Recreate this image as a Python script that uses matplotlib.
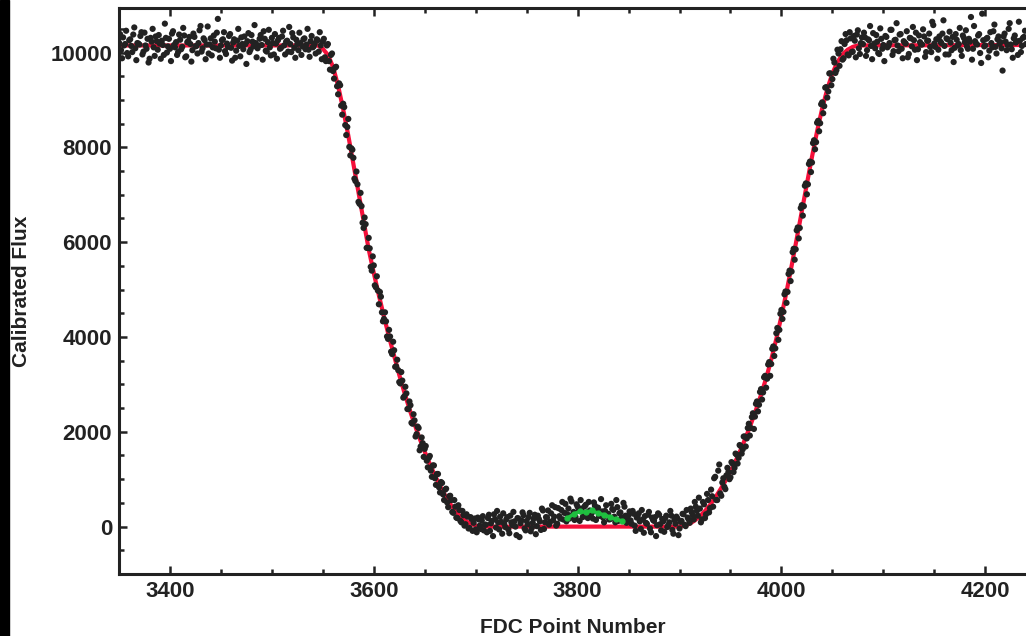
import numpy as np
import matplotlib
matplotlib.use("Agg")
import matplotlib.pyplot as plt
from matplotlib.patches import Rectangle

plt.rcParams['font.family'] = ['Liberation Sans', 'DejaVu Sans']

# measured flux, even FDC points
x_pre = np.arange(3350, 3550, 2)
flux_pre = [10210, 10050, 10320, 10180, 9990, 10260, 10140, 10380, 10090, 10200,
            10170, 10430, 10020, 10150, 10290, 9870, 10230, 10110, 10340, 10060,
            10190, 10250, 9950, 10310, 10130, 10080, 10400, 10160, 10220, 10010,
            10270, 10120, 10360, 9920, 10240, 10180, 10050, 10330, 10140, 10200,
            10560, 10090, 10260, 10170, 9980, 10300, 10110, 10230, 10420, 10060,
            10150, 10280, 10030, 10190, 10350, 10100, 10210, 9890, 10250, 10140,
            10320, 10070, 10180, 10240, 10010, 10370, 10130, 10200, 10090, 10290,
            10160, 10450, 10040, 10220, 10110, 10310, 9960, 10190, 10260, 10080,
            10340, 10150, 10230, 10020, 10180, 10410, 10100, 10270, 10050, 10200,
            10130, 10300, 10170, 10060, 10240, 10110, 10190, 10280, 10020, 10150]

x_ingress = np.arange(3550, 3710, 2)
flux_ingress = [10230, 9900, 10150, 9820, 9950, 9610, 9680, 9290, 9350, 8880,
                8920, 8470, 8430, 8010, 7980, 7780, 7290, 7220, 6810, 6760,
                6300, 6380, 5880, 5870, 5400, 5510, 5050, 4980, 4950, 4520,
                4380, 4330, 3960, 4010, 3640, 3720, 3380, 3300, 3020, 3080,
                2750, 2810, 2480, 2560, 2170, 2240, 1950, 2080, 1690, 1760,
                1640, 1390, 1450, 1180, 1290, 1020, 1110, 830, 940, 680,
                780, 510, 640, 560, 290, 420, 180, 350, 90, 240,
                50, 210, -30, 160, 80, -60, 190, 20, 130, -80]

x_bottom = np.arange(3710, 3920, 2)
flux_bottom = [40, 180, -90, 120, 260, -20, 90, 210, -150, 60,
               150, -60, 230, 30, 110, -180, 170, 70, 300, -40,
               120, 200, -100, 80, 250, 10, 160, -70, 340, 90,
               190, 40, 280, 130, 410, 60, 220, 350, 150, 480,
               260, 170, 530, 310, 200, 420, 120, 380, 250, 460,
               180, 340, 290, 510, 140, 400, 230, 320, 90, 450,
               270, 160, 370, 210, 560, 120, 300, 190, 420, 80,
               240, 130, 330, 20, 190, 280, -50, 150, 220, 60,
               310, -120, 140, 200, 30, 250, -80, 110, 180, -10,
               90, 230, -150, 60, 170, -40, 120, 260, 10, 190,
               80, 300, 150, 420, 230]

x_egress = np.arange(3920, 4080, 2)
flux_egress = [380, 150, 470, 260, 560, 390, 640, 1020, 560, 1180,
               700, 930, 840, 1080, 1150, 1040, 1330, 1240, 1520, 1450,
               1700, 1630, 1900, 1860, 2170, 2080, 2390, 2320, 2640, 2570,
               2900, 2830, 3180, 3120, 3470, 3430, 3800, 3760, 4190, 4150,
               4570, 4530, 4960, 4950, 5400, 5380, 5860, 5850, 6310, 6300,
               6780, 6760, 7240, 7220, 7700, 7680, 8150, 8110, 8560, 8510,
               8950, 8870, 9270, 9180, 9560, 9440, 9790, 9630, 9980, 10070,
               9850, 10180, 10260, 9940, 10300, 10020, 10250, 10380, 10090, 10200]

x_post = np.arange(4080, 4242, 2)
flux_post = [10180, 10320, 10050, 10260, 10140, 10410, 10090, 10230, 9970, 10290,
             10160, 10350, 10110, 10200, 10480, 10030, 10270, 10150, 10380, 10080,
             10240, 10190, 9900, 10310, 10130, 10260, 10420, 10070, 10220, 10170,
             10340, 10010, 10250, 10120, 10650, 10190, 10280, 10060, 10230, 10400,
             10140, 10300, 9960, 10210, 10330, 10100, 10270, 10180, 10050, 10360,
             10220, 10130, 10290, 10750, 10080, 10240, 10170, 10390, 9780, 10260,
             10150, 10310, 10040, 10200, 10450, 10120, 10280, 10190, 10090, 10340,
             10230, 10160, 10620, 10070, 10300, 10210, 9950, 10250, 10140, 10330,
             10180]

# measured flux, odd FDC points
x_pre_odd = np.arange(3351, 3551, 2)
flux_pre_odd = [10390, 9880, 10150, 10460, 9920, 10280, 10010, 10530, 9840, 10190,
                10350, 9960, 10420, 10080, 9790, 10310, 10500, 9930, 10240, 10370,
                9870, 10160, 10610, 10000, 10290, 9820, 10450, 10110, 9950, 10380,
                10070, 10520, 9900, 10220, 10330, 9810, 10400, 10130, 9980, 10470,
                10020, 10300, 9860, 10550, 10170, 9940, 10360, 10090, 10710, 9890,
                10260, 10430, 9970, 10120, 10390, 9830, 10280, 10040, 10500, 9920,
                10180, 10340, 9760, 10410, 10060, 10230, 10580, 9900, 10150, 10370,
                9850, 10290, 10020, 10480, 9940, 10200, 10390, 9870, 10310, 10100,
                10460, 9960, 10250, 10540, 10010, 10320, 9890, 10180, 10420, 9950,
                10280, 10070, 10500, 9910, 10350, 10130, 9980, 10260, 10430, 9860]

x_ingress_odd = np.arange(3551, 3711, 2)
flux_ingress_odd = [10290, 9820, 10180, 9640, 9980, 9450, 9700, 9120, 9310, 8690,
                    8850, 8260, 8600, 7830, 7950, 7340, 7490, 6850, 7040, 6410,
                    6520, 5880, 6090, 5480, 5700, 5090, 5280, 4690, 4850, 4330,
                    4520, 4010, 4150, 3690, 3900, 3370, 3520, 3050, 3260, 2720,
                    2950, 2480, 2640, 2190, 2370, 1900, 2110, 1610, 1880, 1470,
                    1700, 1250, 1490, 1050, 1290, 880, 1110, 720, 920, 560,
                    800, 410, 650, 310, 560, 190, 450, 120, 330, 20,
                    260, -40, 200, -90, 170, -120, 150, -50, 220, 40]

x_bottom_odd = np.arange(3711, 3921, 2)
flux_bottom_odd = [-120, 250, 70, -200, 160, 330, -60, 100, 280, -10,
                   200, -140, 90, 310, 0, 180, -220, 130, 240, -80,
                   50, 290, -30, 170, -160, 230, 110, 380, -50, 200,
                   340, 100, 450, 210, 20, 390, 170, 520, 290, 110,
                   380, 590, 240, 140, 470, 330, 560, 200, 430, 300,
                   520, 250, 170, 440, 360, 230, 580, 190, 330, 270,
                   150, 480, 350, 90, 410, 280, 180, 500, 230, 140,
                   320, 60, 270, -90, 200, 110, 350, -130, 80, 250,
                   -40, 190, 120, -200, 280, 50, 160, -110, 230, 30,
                   330, -70, 140, 210, -180, 100, 270, 40, 350, 150,
                   380, 240, 520, 330, 610]

x_egress_odd = np.arange(3921, 4081, 2)
flux_egress_odd = [90, 520, 180, 690, 300, 780, 420, 1050, 560, 1310,
                   650, 1020, 790, 1240, 1000, 1360, 1150, 1540, 1330, 1720,
                   1540, 1900, 1690, 2080, 1920, 2310, 2060, 2590, 2430, 2840,
                   2680, 3150, 2930, 3420, 3180, 3750, 3600, 4080, 3940, 4490,
                   4380, 4900, 4720, 5330, 5180, 5790, 5630, 6250, 6080, 6720,
                   6560, 7190, 7010, 7650, 7480, 8090, 7960, 8520, 8340, 8910,
                   8720, 9260, 9050, 9560, 9310, 9870, 9570, 10060, 9720, 10240,
                   9880, 10390, 9960, 10430, 10010, 10350, 9900, 10470, 9970, 10320]

x_post_odd = np.arange(4081, 4241, 2)
flux_post_odd = [10420, 9930, 10280, 10560, 9860, 10190, 10370, 9990, 10510, 10080,
                 9820, 10330, 10140, 10480, 9950, 10260, 10620, 10030, 10390, 9880,
                 10210, 10450, 9970, 10300, 10540, 10060, 9840, 10360, 10170, 10490,
                 9910, 10250, 10400, 10010, 10580, 10120, 9870, 10340, 10200, 10680,
                 9960, 10280, 10440, 10050, 9800, 10390, 10150, 10520, 9930, 10310,
                 10470, 10080, 10230, 9850, 10560, 10190, 10360, 9990, 10820, 10130,
                 10290, 9900, 10430, 10110, 10590, 9980, 10340, 10220, 9620, 10400,
                 10050, 10500, 10170, 9890, 10360, 10240, 10650, 10010, 10310, 10460]

# model light curve (red)
model_x = [3350, 3545, 3550, 3555, 3560, 3565, 3570, 3575, 3580, 3585, 3590, 3595,
           3600, 3605, 3610, 3615, 3620, 3625, 3630, 3635, 3640, 3645, 3650, 3655,
           3660, 3665, 3670, 3675, 3680, 3685, 3690, 3695, 3700, 3705,
           3900, 3905, 3910, 3915, 3920, 3925, 3930, 3935, 3940, 3945, 3950, 3955,
           3960, 3965, 3970, 3975, 3980, 3985, 3990, 3995, 4000, 4005, 4010, 4015,
           4020, 4025, 4030, 4035, 4040, 4045, 4050, 4055, 4060, 4065, 4070, 4075, 4240]
model_y = [10150, 10150, 10080, 9950, 9700, 9300, 8800, 8250, 7650, 7050, 6450, 5850,
           5350, 4880, 4430, 4000, 3600, 3200, 2830, 2480, 2160, 1860, 1580, 1320,
           1080, 860, 660, 480, 330, 210, 120, 60, 20, 0,
           0, 20, 60, 130, 220, 330, 460, 610, 780, 960, 1160, 1380,
           1620, 1880, 2160, 2460, 2780, 3130, 3520, 3960, 4440, 4950, 5500, 6070,
           6650, 7230, 7800, 8340, 8820, 9230, 9560, 9800, 9960, 10060, 10120, 10150, 10160]

# green segment near mid-transit
green_x = [3790, 3796, 3802, 3808, 3814, 3820, 3826, 3832, 3838, 3844]
green_y = [180, 260, 320, 300, 340, 280, 250, 200, 150, 120]

x_tick_vals = [3400, 3600, 3800, 4000, 4200]
y_tick_vals = [0, 2000, 4000, 6000, 8000, 10000]

ink = '#222222'
fig = plt.figure(figsize=(10.26, 6.36), dpi=100)
fig.patches.append(Rectangle((0, 0), 9 / 1026, 1, transform=fig.transFigure,
                             color='black', zorder=0))
ax = fig.add_axes([119 / 1026, 62 / 636, 907 / 1026, 566 / 636])

ax.plot(model_x, model_y, color='#f5103a', lw=3, zorder=2)
segments = [(x_pre, flux_pre), (x_ingress, flux_ingress), (x_bottom, flux_bottom),
            (x_egress, flux_egress), (x_post, flux_post),
            (x_pre_odd, flux_pre_odd), (x_ingress_odd, flux_ingress_odd),
            (x_bottom_odd, flux_bottom_odd), (x_egress_odd, flux_egress_odd),
            (x_post_odd, flux_post_odd)]
for xs, ys in segments:
    ax.scatter(xs, ys, s=20, color=ink, edgecolors='none', zorder=4)
ax.plot(green_x, green_y, color='#1fbf3f', lw=2.5, marker='o', ms=3.5, zorder=5)

ax.set_xlim(3350, 4240)
ax.set_ylim(-1000, 10940)
ax.set_xticks(x_tick_vals)
ax.set_xticks(np.arange(3350, 4250, 50), minor=True)
ax.set_yticks(y_tick_vals)
ax.set_yticks(np.arange(-500, 10600, 500), minor=True)
ax.set_xticklabels([str(v) for v in x_tick_vals])
ax.set_yticklabels([str(v) for v in y_tick_vals])
ax.tick_params(which='both', direction='in', top=True, right=False, color=ink,
               labelsize=16, labelcolor=ink, pad=5)
ax.tick_params(which='major', length=6, width=1.8)
ax.tick_params(which='minor', length=3.5, width=1.8)
for lab in ax.get_xticklabels() + ax.get_yticklabels():
    lab.set_fontweight('bold')

for side in ['left', 'bottom', 'top']:
    ax.spines[side].set_linewidth(2.2)
    ax.spines[side].set_color(ink)
ax.spines['right'].set_visible(False)

ax.set_xlabel('FDC Point Number', fontsize=15, fontweight='bold', color=ink)
ax.set_ylabel('Calibrated Flux', fontsize=15, fontweight='bold', color=ink)
ax.xaxis.set_label_coords(0.5, -0.094)
ax.yaxis.set_label_coords(-0.107, 0.5)
ax.xaxis.label.set_va('center')
ax.yaxis.label.set_va('center')

fig.savefig('out.png', dpi=100)
